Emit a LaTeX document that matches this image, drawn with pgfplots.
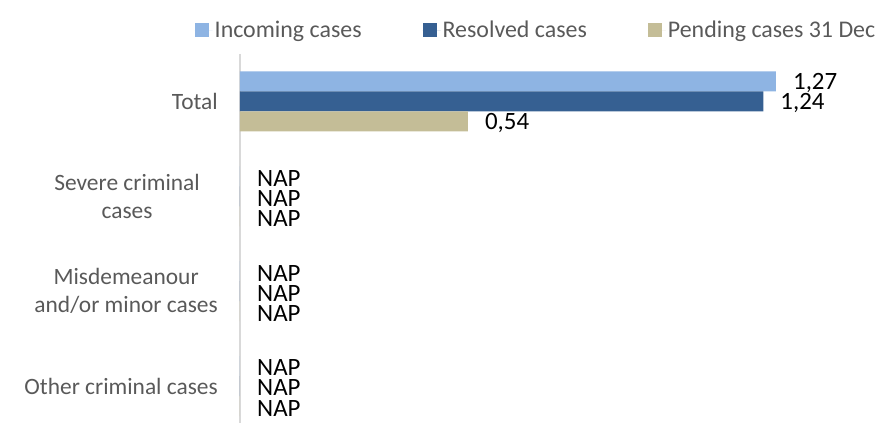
\documentclass[border=0pt]{standalone}
\usepackage{pgfplots}
\usepackage{pgfplotstable}
\pgfplotsset{compat=1.18}
\usepackage{fontspec}
\setmainfont{Carlito}
\definecolor{cinc}{HTML}{8EB4E3}
\definecolor{cres}{HTML}{366092}
\definecolor{cpen}{HTML}{C4BD97}
\definecolor{tgray}{HTML}{595959}
\definecolor{lgray}{HTML}{D9D9D9}

\pgfplotstableread{
y x lab
0 1.27 1,27
1 0 NAP
2 0 NAP
3 0 NAP
}\tinc
\pgfplotstableread{
y x lab
0 1.24 1,24
1 0 NAP
2 0 NAP
3 0 NAP
}\tres
\pgfplotstableread{
y x lab
0 0.54 0,54
1 0 NAP
2 0 NAP
3 0 NAP
}\tpen

\begin{document}
\begin{tikzpicture}
\useasboundingbox (-240bp,0bp) rectangle (651bp,423bp);
\begin{axis}[
  at={(0bp,0bp)}, anchor=south west,
  scale only axis, width=633bp, height=369bp,
  xbar, bar width=20bp,
  xmin=0, xmax=1.5,
  ymin=-0.5, ymax=3.39, y dir=reverse,
  ytick={0,1,2,3},
  yticklabels={Total, {Severe criminal\hspace*{18bp}\\cases\hspace*{18bp}}, {Misdemeanour\\and/or minor cases}, Other criminal cases},
  yticklabel style={align=center, font=\fontsize{23.5}{28}\selectfont, text=tgray, anchor=east, inner sep=0pt, xshift=-22bp},
  axis x line=none,
  axis y line*=left,
  y axis line style={-, draw=lgray, line width=1.2bp},
  major tick length=0pt,
  clip=false,
  point meta=explicit symbolic,
  nodes near coords,
  every node near coord/.append style={font=\fontsize{25}{25}\selectfont, text=black, anchor=west, inner sep=0pt, xshift=17bp, yshift=-2bp},
  legend columns=3,
  legend style={at={(0.4676,1.065)}, anchor=center, draw=none, fill=none,
    font=\fontsize{24}{28}\selectfont, text=tgray,
    nodes={inner sep=2bp},
    /tikz/every even column/.append style={column sep=59bp}},
  legend image code/.code={\fill[#1] (0bp,-7bp) rectangle (14bp,7bp); \path (0bp,0bp) -- (18bp,0bp);},
]
\addplot[fill=cinc, draw=none, bar shift=20bp] table[x=x, y=y, meta=lab] {\tinc};
\addplot[fill=cres, draw=none, bar shift=0bp] table[x=x, y=y, meta=lab] {\tres};
\addplot[fill=cpen, draw=none, bar shift=-20bp] table[x=x, y=y, meta=lab] {\tpen};
\legend{Incoming cases, Resolved cases, Pending cases 31 Dec}
\end{axis}
\end{tikzpicture}
\end{document}
